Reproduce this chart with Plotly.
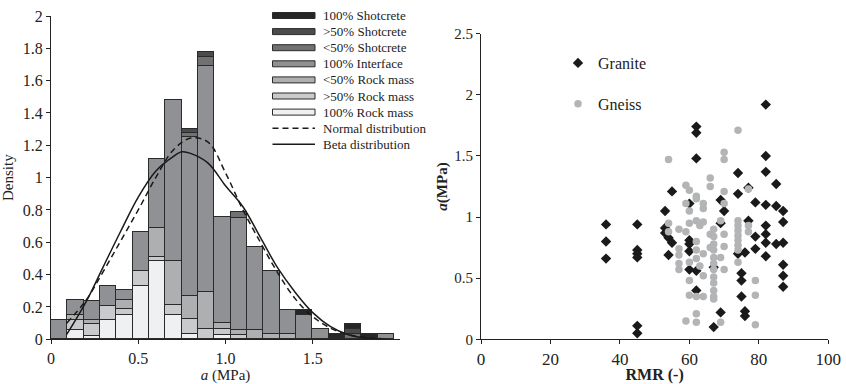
import plotly.graph_objects as go

# ---------------- Histogram data (density, stacked by category) ----------------
bin_width = 0.0936
n_bins = 21
bin_centers = [round((i + 0.5) * bin_width, 4) for i in range(n_bins)]

rm100 = [0, 0.058, 0.022, 0.12, 0.15, 0.33, 0.484, 0.15, 0.033, 0, 0.027, 0, 0, 0, 0, 0, 0, 0, 0, 0, 0]
rm_gt50 = [0, 0.06, 0.075, 0.086, 0.035, 0.094, 0.027, 0.06, 0.09, 0.062, 0.035, 0.025, 0, 0, 0, 0, 0, 0, 0, 0, 0]
rm_lt50 = [0, 0.03, 0.02, 0, 0.058, 0, 0.18, 0.274, 0.147, 0.232, 0.037, 0.035, 0.06, 0.03, 0.03, 0, 0, 0, 0, 0, 0]
interface100 = [0.12, 0.095, 0.123, 0.124, 0.062, 0.24, 0.427, 0.996, 0.983, 1.396, 0.655, 0.692, 0.513, 0.392, 0.151, 0.15, 0.062, 0, 0, 0, 0.031]
sc_lt50 = [0, 0, 0, 0, 0, 0, 0, 0, 0.025, 0.058, 0, 0.033, 0, 0, 0, 0, 0, 0, 0.031, 0, 0]
sc_gt50 = [0, 0, 0, 0, 0, 0, 0, 0, 0.021, 0.031, 0, 0, 0, 0, 0, 0, 0, 0, 0.031, 0, 0]
sc100 = [0, 0, 0, 0, 0, 0, 0, 0, 0, 0, 0, 0, 0, 0, 0, 0.031, 0, 0.035, 0.031, 0.031, 0]

series_names = ["100% Rock mass", ">50% Rock mass", "<50% Rock mass", "100% Interface",
                "<50% Shotcrete", ">50% Shotcrete", "100% Shotcrete"]
series_values = [rm100, rm_gt50, rm_lt50, interface100, sc_lt50, sc_gt50, sc100]
series_colors = ["#eff0f2", "#c9cacc", "#aeafb1", "#8f9194", "#707173", "#4b4b4d", "#262626"]

# Fitted curves
normal_x = [0.09, 0.2, 0.3, 0.4, 0.5, 0.6, 0.7, 0.8, 0.9, 1.0, 1.1, 1.2, 1.3, 1.4, 1.5, 1.6, 1.7, 1.8, 1.89]
normal_y = [0.10, 0.24, 0.42, 0.61, 0.80, 1.00, 1.17, 1.245, 1.22, 1.03, 0.80, 0.60, 0.41, 0.25, 0.14, 0.07, 0.03, 0.012, 0.005]
beta_x = [0.09, 0.2, 0.3, 0.4, 0.5, 0.6, 0.7, 0.75, 0.8, 0.9, 1.0, 1.1, 1.2, 1.3, 1.4, 1.5, 1.6, 1.7, 1.8, 1.92]
beta_y = [0.03, 0.23, 0.45, 0.67, 0.88, 1.04, 1.13, 1.16, 1.15, 1.09, 0.95, 0.82, 0.63, 0.44, 0.29, 0.165, 0.08, 0.03, 0.008, 0.0]

hist_xticks = [0, 0.5, 1.0, 1.5]
hist_xticklabels = ["0", "0.5", "1.0", "1.5"]

# ---------------- Scatter data ----------------
granite_rmr = [36, 36, 36, 45, 45, 45, 45, 45, 45, 53, 53, 53, 54, 54, 55, 55,
               60, 60, 60, 60, 60, 62, 62, 62, 62, 62, 67, 67, 69, 69, 69, 70,
               74, 74, 74, 75, 75, 75, 76, 76, 76, 77, 77, 79, 79, 79,
               82, 82, 82, 82, 82, 82, 82, 82, 85, 85, 85, 87, 87, 87, 87, 87, 87]
granite_a = [0.94, 0.80, 0.66, 0.94, 0.73, 0.70, 0.67, 0.11, 0.05, 1.05, 0.91, 0.87, 0.83, 0.69, 1.21, 0.79,
             0.81, 0.78, 0.72, 0.57, 1.11, 1.74, 1.69, 1.48, 0.56, 0.40, 0.59, 0.10, 1.14, 0.95, 0.22, 1.05,
             1.36, 1.19, 0.70, 0.54, 0.48, 0.35, 0.23, 0.19, 0.71, 1.24, 0.97, 1.12, 0.84, 0.74,
             1.92, 1.50, 1.37, 1.10, 0.93, 0.86, 0.79, 0.68, 1.27, 1.09, 0.78, 1.05, 0.96, 0.79, 0.61, 0.52, 0.43]

gneiss_rmr = [54, 54, 54, 57, 57, 57, 57, 57, 59, 59, 59, 59, 60, 60, 60, 60, 60, 60,
              62, 62, 62, 62, 62, 62, 62, 62, 62, 63, 63, 64, 64, 64, 64, 64, 64,
              66, 66, 66, 66, 67, 67, 67, 67, 67, 67, 67, 67, 67, 67, 67, 67,
              69, 69, 69, 70, 70, 70, 70, 70, 70, 70,
              74, 74, 74, 74, 74, 74, 74, 74, 74, 77, 77, 77, 79, 79, 79]
gneiss_a = [1.47, 0.95, 0.88, 0.90, 0.74, 0.69, 0.62, 0.57, 1.26, 1.11, 0.88, 0.15, 1.22, 1.05, 0.95, 0.63, 0.48, 0.36,
            1.17, 1.15, 0.97, 0.80, 0.73, 0.66, 0.35, 0.21, 0.14, 0.93, 0.60, 1.11, 1.07, 0.96, 0.70, 0.52, 0.35,
            1.32, 1.25, 0.86, 0.75, 0.90, 0.84, 0.78, 0.73, 0.67, 0.62, 0.57, 0.51, 0.46, 0.40, 0.35, 0.33,
            0.97, 0.67, 0.14, 1.53, 1.47, 1.21, 1.11, 0.86, 0.76, 0.57,
            1.71, 0.97, 0.93, 0.89, 0.85, 0.81, 0.77, 0.73, 0.63, 1.23, 0.93, 0.88, 0.48, 0.36, 0.12]

SERIF = "Liberation Serif, Times New Roman, serif"
W, H = 846, 384
INK = "#1a1a1a"

fig = go.Figure()

# stacked bars
for name, vals, col in zip(series_names, series_values, series_colors):
    fig.add_trace(go.Bar(
        x=bin_centers, y=vals, width=bin_width, name=name,
        marker=dict(color=col, line=dict(color="#2a2a2a", width=1)),
        showlegend=False, xaxis="x", yaxis="y"))

NORMAL_DASH = "6px,4px"
fig.add_trace(go.Scatter(x=normal_x, y=normal_y, mode="lines", line_shape="spline", name="Normal distribution",
                         line=dict(color=INK, width=1.5, dash=NORMAL_DASH),
                         showlegend=False, xaxis="x", yaxis="y"))
fig.add_trace(go.Scatter(x=beta_x, y=beta_y, mode="lines", line_shape="spline", name="Beta distribution",
                         line=dict(color=INK, width=1.5),
                         showlegend=False, xaxis="x", yaxis="y"))

# scatter (granite first, gneiss drawn on top)
fig.add_trace(go.Scatter(x=granite_rmr, y=granite_a, mode="markers", name="Granite",
                         marker=dict(symbol="diamond", size=8, color=INK),
                         xaxis="x2", yaxis="y2", legend="legend2", legendgroup="gr", legendrank=1))
fig.add_trace(go.Scatter(x=gneiss_rmr, y=gneiss_a, mode="markers", name="Gneiss",
                         marker=dict(symbol="circle", size=7.5, color="#b3b4b6"),
                         xaxis="x2", yaxis="y2", legend="legend2", legendgroup="gn", legendrank=2))

# ---------- left legend (drawn as swatches + text, Excel style) ----------
leg_items = list(reversed(list(zip(series_names, series_colors))))
shapes = []
annotations = []
LEG_X0, LEG_X1, LEG_TX = 272.5, 315.0, 321.0
LEG_Y0, LEG_DY = 15.5, 16.1


def px_x(p):
    return p / W


def px_y(p):
    return 1 - p / H


for i, (name, col) in enumerate(leg_items):
    yc = LEG_Y0 + i * LEG_DY
    shapes.append(dict(type="rect", xref="paper", yref="paper",
                       x0=px_x(LEG_X0), x1=px_x(LEG_X1), y0=px_y(yc - 3), y1=px_y(yc + 3),
                       fillcolor=col, line=dict(color="#2a2a2a", width=1)))
    annotations.append(dict(xref="paper", yref="paper", x=px_x(LEG_TX), y=px_y(yc), text=name,
                            showarrow=False, xanchor="left", yanchor="middle",
                            font=dict(family=SERIF, size=13, color="#222222")))
for j, (name, dash) in enumerate([("Normal distribution", NORMAL_DASH), ("Beta distribution", "solid")]):
    yc = LEG_Y0 + (len(leg_items) + j) * LEG_DY
    shapes.append(dict(type="line", xref="paper", yref="paper",
                       x0=px_x(LEG_X0), x1=px_x(LEG_X1), y0=px_y(yc), y1=px_y(yc),
                       line=dict(color=INK, width=1.5, dash=dash)))
    annotations.append(dict(xref="paper", yref="paper", x=px_x(LEG_TX), y=px_y(yc), text=name,
                            showarrow=False, xanchor="left", yanchor="middle",
                            font=dict(family=SERIF, size=13, color="#222222")))

axis_common = dict(showline=True, linecolor="#222222", linewidth=1, showgrid=False, zeroline=False,
                   ticks="outside", ticklen=4, tickcolor="#222222", mirror=False, automargin=False)

fig.update_layout(
    width=W, height=H,
    margin=dict(l=0, r=0, t=0, b=0),
    paper_bgcolor="white", plot_bgcolor="white",
    font=dict(family=SERIF, color="#222222"),
    barmode="stack", bargap=0,
    shapes=shapes, annotations=annotations,
    xaxis=dict(domain=[51 / W, 400 / W], range=[0, 2.0], tickvals=hist_xticks, ticktext=hist_xticklabels,
               tickfont=dict(size=16), anchor="y",
               title=dict(text="<i>a</i> (MPa)", font=dict(size=15), standoff=1), **axis_common),
    yaxis=dict(domain=[(H - 339.3) / H, (H - 16) / H], range=[0, 2.0], dtick=0.2,
               tickfont=dict(size=16), anchor="x",
               title=dict(text="Density", font=dict(size=15)), **axis_common),
    xaxis2=dict(domain=[481 / W, 828.3 / W], range=[0, 100], dtick=20, tickfont=dict(size=17), anchor="y2",
                title=dict(text="<b>RMR (-)</b>", font=dict(size=16), standoff=1), **axis_common),
    yaxis2=dict(domain=[(H - 339.3) / H, (H - 33.7) / H], range=[0, 2.5], dtick=0.5,
                tickfont=dict(size=15), anchor="x2",
                title=dict(text="<b><i>a</i>(MPa)</b>", font=dict(size=15), standoff=3), **axis_common),
    showlegend=True,
    legend2=dict(x=558 / W, y=1 - 46 / H, xanchor="left", yanchor="top", traceorder="grouped",
                 font=dict(family=SERIF, size=16, color="#222222"), bgcolor="rgba(0,0,0,0)",
                 itemwidth=30, tracegroupgap=17),
)

fig.write_html("out.html")
